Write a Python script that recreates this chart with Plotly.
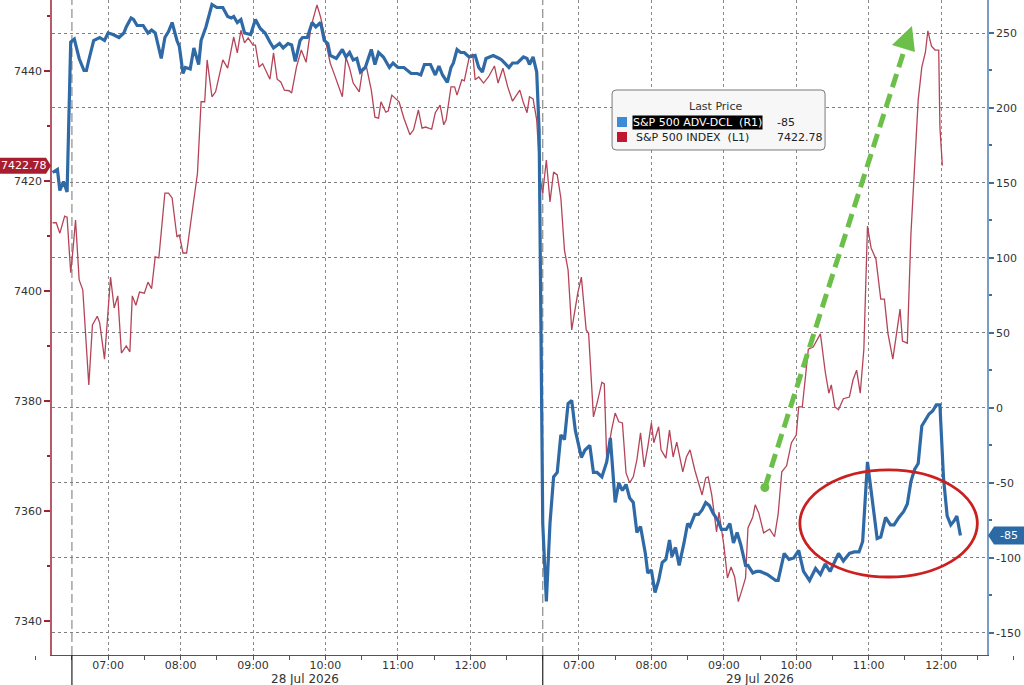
import plotly.graph_objects as go

DAY1 = "2026-07-28"
DAY2 = "2026-07-29"

# S&P 500 ADV-DCL (right axis)
adv_d1_time = ["06:14", "06:18", "06:20", "06:23", "06:26", "06:29", "06:32", "06:36", "06:40", "06:42",
               "06:44", "06:48", "06:53", "06:57", "07:00", "07:04", "07:09", "07:13", "07:15", "07:19",
               "07:21", "07:24", "07:29", "07:33", "07:36", "07:39", "07:44", "07:47", "07:50", "07:53",
               "07:57", "07:59", "08:02", "08:04", "08:08", "08:11", "08:15", "08:17", "08:21", "08:26",
               "08:30", "08:35", "08:39", "08:42", "08:44", "08:47", "08:50", "08:53", "08:58", "09:02",
               "09:06", "09:10", "09:14", "09:17", "09:22", "09:25", "09:29", "09:32", "09:35", "09:39",
               "09:41", "09:45", "09:49", "09:52", "09:56", "09:59", "10:02", "10:04", "10:09", "10:14",
               "10:17", "10:20", "10:23", "10:26", "10:29", "10:33", "10:38", "10:41", "10:44", "10:48",
               "10:53", "10:56", "11:00", "11:05", "11:11", "11:16", "11:19", "11:22", "11:27", "11:31",
               "11:34", "11:37", "11:41", "11:44", "11:46", "11:49", "11:52", "11:55", "11:59", "12:04",
               "12:07", "12:10", "12:13", "12:19", "12:24", "12:26", "12:32", "12:35", "12:39", "12:44",
               "12:47", "12:49", "12:52", "12:55", "12:57"]
adv_d1 = [157, 159, 145, 151, 144, 244, 246, 233, 225, 225,
          232, 245, 247, 245, 250, 249, 247, 250, 254, 260,
          259, 255, 255, 250, 252, 250, 233, 247, 251, 257,
          245, 241, 223, 227, 226, 240, 229, 245, 254, 269,
          267, 267, 261, 260, 261, 257, 259, 250, 249, 259,
          253, 250, 244, 240, 243, 240, 243, 242, 231, 245,
          247, 247, 257, 254, 257, 245, 243, 235, 233, 239,
          234, 237, 232, 233, 224, 227, 239, 229, 237, 234,
          227, 230, 227, 227, 223, 223, 222, 229, 229, 222,
          228, 222, 217, 227, 230, 239, 237, 237, 234, 235,
          227, 224, 233, 235, 233, 232, 227, 230, 230, 234,
          233, 229, 234, 224, 185]

adv_d2_time = ["06:30", "06:33", "06:36", "06:39", "06:42", "06:45", "06:48", "06:51", "06:54", "06:57",
               "07:02", "07:05", "07:09", "07:12", "07:15", "07:19", "07:23", "07:26", "07:30", "07:33",
               "07:36", "07:39", "07:42", "07:45", "07:48", "07:51", "07:55", "07:57", "08:00", "08:03",
               "08:06", "08:09", "08:12", "08:15", "08:17", "08:20", "08:23", "08:27", "08:30", "08:32",
               "08:36", "08:39", "08:42", "08:45", "08:48", "08:51", "08:55", "08:58", "09:02", "09:05",
               "09:08", "09:11", "09:14", "09:18", "09:20", "09:24", "09:27", "09:30", "09:36", "09:43",
               "09:45", "09:50", "09:54", "09:58", "10:02", "10:06", "10:11", "10:16", "10:20", "10:24",
               "10:28", "10:35", "10:39", "10:44", "10:48", "10:52", "10:55", "10:59", "11:02", "11:07",
               "11:10", "11:14", "11:18", "11:21", "11:25", "11:29", "11:32", "11:35", "11:38", "11:41",
               "11:44", "11:47", "11:50", "11:53", "11:56", "11:59", "12:02", "12:05", "12:08", "12:11",
               "12:13", "12:16"]
adv_d2 = [-77, -129, -77, -46, -43, -18, -21, 3, 5, -15,
          -33, -28, -25, -43, -43, -46, -36, -20, -63, -50,
          -55, -51, -60, -63, -83, -79, -97, -110, -108, -123,
          -115, -103, -101, -88, -99, -93, -105, -90, -77, -79,
          -71, -71, -68, -63, -65, -70, -75, -81, -81, -77,
          -90, -83, -91, -105, -105, -110, -109, -109, -111, -115,
          -115, -97, -101, -100, -95, -109, -115, -107, -111, -104,
          -109, -97, -102, -97, -96, -96, -89, -36, -54, -87,
          -86, -73, -78, -78, -73, -69, -64, -49, -41, -37,
          -12, -8, -4, -2, 2, 2, -47, -72, -78, -75,
          -72, -85]

# S&P 500 INDEX (left axis)
spx_d1_time = ["06:14", "06:17", "06:20", "06:24", "06:26", "06:29", "06:31", "06:33", "06:36", "06:39",
               "06:44", "06:47", "06:51", "06:53", "06:57", "06:59", "07:02", "07:05", "07:08", "07:11",
               "07:15", "07:18", "07:20", "07:23", "07:26", "07:30", "07:33", "07:36", "07:39", "07:42",
               "07:47", "07:50", "07:53", "07:57", "07:59", "08:02", "08:05", "08:09", "08:14", "08:17",
               "08:20", "08:22", "08:26", "08:29", "08:35", "08:39", "08:44", "08:47", "08:50", "08:53",
               "08:56", "09:00", "09:02", "09:05", "09:08", "09:14", "09:17", "09:20", "09:23", "09:26",
               "09:30", "09:32", "09:36", "09:40", "09:44", "09:48", "09:53", "09:56", "10:00", "10:04",
               "10:07", "10:11", "10:14", "10:17", "10:20", "10:23", "10:28", "10:31", "10:34", "10:38",
               "10:41", "10:44", "10:46", "10:50", "10:52", "10:55", "11:01", "11:05", "11:10", "11:13",
               "11:17", "11:20", "11:23", "11:28", "11:31", "11:35", "11:38", "11:40", "11:44", "11:47",
               "11:49", "11:53", "11:55", "11:59", "12:02", "12:04", "12:07", "12:11", "12:15", "12:20",
               "12:23", "12:27", "12:31", "12:35", "12:37", "12:41", "12:44", "12:47", "12:49", "12:52",
               "12:55", "12:58"]
spx_d1 = [7412.4, 7412.4, 7410.5, 7413.6, 7413.4, 7403.3, 7407.8, 7412.9, 7402.0, 7400.2,
          7382.9, 7393.8, 7395.4, 7394.2, 7387.6, 7394.2, 7402.5, 7396.9, 7399.1, 7388.7,
          7390.0, 7388.9, 7399.1, 7397.4, 7399.8, 7399.6, 7401.6, 7400.4, 7406.2, 7406.0,
          7417.8, 7417.8, 7416.9, 7409.8, 7410.2, 7406.9, 7406.9, 7413.4, 7421.4, 7434.4,
          7434.4, 7442.0, 7435.3, 7436.2, 7442.0, 7440.5, 7446.2, 7443.3, 7447.4, 7445.1,
          7446.0, 7444.7, 7444.7, 7440.7, 7441.3, 7438.5, 7443.3, 7438.5, 7438.0, 7436.5,
          7436.4, 7436.0, 7440.7, 7443.8, 7441.6, 7448.0, 7452.0, 7449.8, 7445.6, 7441.4,
          7439.6, 7437.1, 7435.3, 7442.5, 7440.5, 7437.8, 7436.2, 7440.5, 7440.7, 7436.5,
          7431.6, 7431.4, 7434.4, 7432.5, 7432.7, 7435.6, 7434.4, 7431.4, 7428.4, 7429.3,
          7432.9, 7429.6, 7429.8, 7429.4, 7432.4, 7433.8, 7430.2, 7431.1, 7437.1, 7437.1,
          7435.6, 7438.4, 7438.2, 7442.4, 7443.1, 7438.4, 7438.9, 7437.8, 7438.9, 7440.9,
          7437.8, 7440.5, 7437.1, 7434.5, 7435.1, 7436.5, 7434.2, 7432.4, 7435.3, 7434.9,
          7431.1, 7420.2]

spx_d2_time = ["06:30", "06:33", "06:36", "06:39", "06:42", "06:45", "06:48", "06:51", "06:54", "06:59",
               "07:02", "07:06", "07:08", "07:12", "07:15", "07:19", "07:21", "07:23", "07:27", "07:30",
               "07:33", "07:36", "07:39", "07:42", "07:45", "07:48", "07:51", "07:54", "07:57", "08:00",
               "08:02", "08:06", "08:08", "08:12", "08:15", "08:18", "08:21", "08:26", "08:29", "08:32",
               "08:36", "08:39", "08:42", "08:45", "08:47", "08:50", "08:54", "08:56", "09:00", "09:03",
               "09:06", "09:09", "09:12", "09:15", "09:18", "09:20", "09:24", "09:26", "09:29", "09:33",
               "09:38", "09:42", "09:45", "09:48", "09:52", "09:56", "10:00", "10:02", "10:05", "10:10",
               "10:14", "10:20", "10:24", "10:27", "10:29", "10:32", "10:35", "10:39", "10:44", "10:47",
               "10:50", "10:53", "10:56", "10:59", "11:02", "11:06", "11:10", "11:13", "11:16", "11:20",
               "11:23", "11:26", "11:28", "11:32", "11:35", "11:38", "11:41", "11:44", "11:47", "11:49",
               "11:52", "11:55", "11:58", "11:59", "12:01"]
spx_d2 = [7417.8, 7423.8, 7416.2, 7421.6, 7421.1, 7416.9, 7407.4, 7403.8, 7392.9, 7399.6,
          7402.5, 7392.9, 7392.3, 7377.1, 7379.6, 7383.4, 7383.1, 7369.3, 7374.7, 7377.8,
          7376.2, 7376.0, 7366.9, 7365.1, 7366.2, 7369.3, 7374.2, 7368.0, 7371.6, 7376.0,
          7372.4, 7375.3, 7371.1, 7369.6, 7374.7, 7369.8, 7372.5, 7367.1, 7369.8, 7371.1,
          7367.4, 7365.1, 7362.9, 7366.0, 7366.2, 7362.9, 7356.2, 7359.8, 7353.8, 7347.8,
          7349.8, 7348.0, 7343.5, 7345.6, 7347.8, 7356.9, 7358.9, 7361.1, 7359.6, 7356.0,
          7356.7, 7355.3, 7359.4, 7367.1, 7368.2, 7372.4, 7373.8, 7378.9, 7378.9, 7389.4,
          7389.8, 7392.2, 7385.3, 7381.4, 7382.9, 7378.9, 7378.4, 7380.4, 7380.7, 7383.8,
          7385.6, 7381.4, 7389.4, 7411.8, 7407.8, 7405.8, 7398.5, 7398.5, 7392.2, 7387.6,
          7392.5, 7396.7, 7390.9, 7390.5, 7410.4, 7422.9, 7434.7, 7440.7, 7443.4, 7447.3,
          7444.5, 7443.8, 7443.8, 7429.8, 7422.78]

hour_labels = ["07:00", "08:00", "09:00", "10:00", "11:00", "12:00"]
day_labels = ["28 Jul 2026", "29 Jul 2026"]
left_ticks = [7340, 7360, 7380, 7400, 7420, 7440]
right_ticks = [-150, -100, -50, 0, 50, 100, 150, 200, 250]
spx_last = 7422.78
adv_last = -85
adv_name = "S&amp;P 500 ADV-DCL\u00a0\u00a0(R1)"
spx_name = "S&amp;P 500 INDEX\u00a0\u00a0(L1)"

BLUE = "#2f6aa6"
RED = "#b54458"
GREEN = "#6cc04a"
FONT = "DejaVu Sans, Verdana, sans-serif"
FS = 11

adv_x = [DAY1 + " " + t for t in adv_d1_time] + [DAY2 + " " + t for t in adv_d2_time]
adv_y = adv_d1 + adv_d2
spx_x = [DAY1 + " " + t for t in spx_d1_time] + [DAY2 + " " + t for t in spx_d2_time]
spx_y = spx_d1 + spx_d2

fig = go.Figure()
fig.add_trace(go.Scatter(x=spx_x, y=spx_y, mode="lines", yaxis="y",
                         line=dict(color=RED, width=1.3), showlegend=False))
fig.add_trace(go.Scatter(x=adv_x, y=adv_y, mode="lines", yaxis="y2",
                         line=dict(color=BLUE, width=3.2), showlegend=False))

shapes = []
# session starts: dashed line in plot, solid separator under axis
for s in [DAY1 + " 06:30", DAY2 + " 06:30"]:
    shapes.append(dict(type="line", xref="x", yref="paper", x0=s, x1=s, y0=0, y1=1,
                       line=dict(color="#8c8c8c", width=1.2, dash="9px,4px"), layer="below"))
    shapes.append(dict(type="line", xref="x", yref="paper", x0=s, x1=s, y0=0, y1=-0.047,
                       line=dict(color="#222222", width=1.2)))

# last price tags
shapes.append(dict(type="path", xref="paper", yref="y", xsizemode="pixel", ysizemode="pixel",
                   xanchor=0, yanchor=spx_last,
                   path="M -52,8 L -6,8 L -1,0 L -6,-8 L -52,-8 Z",
                   fillcolor="#a81e2f", line=dict(width=0)))
shapes.append(dict(type="path", xref="paper", yref="y2", xsizemode="pixel", ysizemode="pixel",
                   xanchor=1, yanchor=adv_last,
                   path="M 1,0 L 7,9 L 38,9 L 38,-9 L 7,-9 Z",
                   fillcolor="#2c6aa5", line=dict(width=0)))

# green dashed arrow
arrow_tail = (DAY2 + " 09:34", -53)
arrow_base = (DAY2 + " 11:30", 240)
arrow_tip = (DAY2 + " 11:35", 254)
shapes.append(dict(type="line", xref="x", yref="y2", x0=arrow_tail[0], y0=arrow_tail[1],
                   x1=arrow_base[0], y1=arrow_base[1],
                   line=dict(color=GREEN, width=5, dash="14px,7px")))
shapes.append(dict(type="path", xref="x", yref="y2", xsizemode="pixel", ysizemode="pixel",
                   xanchor=arrow_tip[0], yanchor=arrow_tip[1],
                   path="M 1,1 L 4,-25 L -19,-18 Z", fillcolor=GREEN, line=dict(width=0)))
shapes.append(dict(type="circle", xref="x", yref="y2", xsizemode="pixel", ysizemode="pixel",
                   xanchor=arrow_tail[0], yanchor=arrow_tail[1], x0=-4.5, x1=4.5, y0=-4.5, y1=4.5,
                   fillcolor=GREEN, line=dict(width=0)))

# red ellipse
shapes.append(dict(type="circle", xref="x", yref="y2",
                   x0=DAY2 + " 10:03", x1=DAY2 + " 12:30", y0=-112.7, y1=-41.3,
                   line=dict(color="#cc1f1f", width=2.8)))

# legend box
shapes.append(dict(type="path", xref="paper", yref="paper", xsizemode="pixel", ysizemode="pixel",
                   xanchor=0.599, yanchor=0.8626,
                   path="M 4,0 L 209,0 Q 213,0 213,-4 L 213,-56 Q 213,-60 209,-60 "
                        "L 4,-60 Q 0,-60 0,-56 L 0,-4 Q 0,0 4,0 Z",
                   fillcolor="#f7f7f7", line=dict(color="#7a7a7a", width=1)))
shapes.append(dict(type="rect", xref="paper", yref="paper",
                   x0=0.6043, x1=0.6150, y0=0.8061, y1=0.8214,
                   fillcolor="#3d8ad6", line=dict(width=0)))
shapes.append(dict(type="rect", xref="paper", yref="paper",
                   x0=0.6043, x1=0.6150, y0=0.7832, y1=0.7985,
                   fillcolor="#c0182e", line=dict(width=0)))

annotations = []
annotations.append(dict(xref="paper", yref="paper", x=0.710, y=0.838, text="Last Price",
                        xanchor="center", yanchor="middle",
                        showarrow=False, font=dict(size=FS, color="#333333")))
annotations.append(dict(xref="paper", yref="paper", x=0.6203, y=0.8137, text=adv_name,
                        xanchor="left", yanchor="middle", showarrow=False,
                        bgcolor="#000000", borderpad=0,
                        font=dict(size=FS, color="#ffffff")))
annotations.append(dict(xref="paper", yref="paper", x=0.7732, y=0.8137, text=str(adv_last),
                        xanchor="left", yanchor="middle", showarrow=False,
                        font=dict(size=FS, color="#222222")))
annotations.append(dict(xref="paper", yref="paper", x=0.6223, y=0.7908, text=spx_name,
                        xanchor="left", yanchor="middle", showarrow=False,
                        font=dict(size=FS, color="#222222")))
annotations.append(dict(xref="paper", yref="paper", x=0.7732, y=0.7908, text=f"{spx_last:.2f}",
                        xanchor="left", yanchor="middle", showarrow=False,
                        font=dict(size=FS, color="#222222")))

# tag texts
annotations.append(dict(xref="paper", yref="y", x=0, y=spx_last, xshift=-28, text=f"{spx_last:.2f}",
                        xanchor="center", yanchor="middle",
                        showarrow=False, font=dict(size=FS, color="#ffffff")))
annotations.append(dict(xref="paper", yref="y2", x=1, y=adv_last, xshift=22, text=str(adv_last),
                        xanchor="center", yanchor="middle",
                        showarrow=False, font=dict(size=FS, color="#ffffff")))

# day labels under the time axis
for d, lab, mid in [(DAY1, day_labels[0], "09:43"), (DAY2, day_labels[1], "09:30")]:
    annotations.append(dict(xref="x", yref="paper", x=d + " " + mid, y=0, yshift=-24,
                            xanchor="center", yanchor="middle", text=lab, showarrow=False,
                            font=dict(size=12, color="#333333")))

fig.update_layout(
    width=1024, height=685,
    margin=dict(l=52, r=37, t=0, b=30, autoexpand=False),
    paper_bgcolor="white", plot_bgcolor="white",
    font=dict(family=FONT, size=FS, color="#333333"),
    showlegend=False,
    xaxis=dict(
        type="date", automargin=False,
        range=[DAY1 + " 06:13:30", DAY2 + " 12:38"],
        rangebreaks=[dict(bounds=[DAY1 + " 13:00", DAY2 + " 06:30"])],
        tickvals=[d + " " + h for d in (DAY1, DAY2) for h in hour_labels],
        ticktext=hour_labels * 2,
        ticks="", showgrid=True, gridcolor="#8a8a8a", griddash="dot", gridwidth=1,
        showline=True, linecolor="#555555", linewidth=1, zeroline=False,
        minor=dict(dtick=1800000, tick0=DAY1 + " 06:00", ticks="outside", ticklen=4,
                   tickcolor="#555555", showgrid=False),
        tickfont=dict(size=FS, color="#333333"),
    ),
    yaxis=dict(
        automargin=False,
        range=[7333.8, 7452.9],
        tickvals=left_ticks,
        ticks="outside", ticklen=6, tickwidth=2, tickcolor="#a3202e",
        showline=True, linecolor="#b75a68", linewidth=1.5,
        showgrid=False, zeroline=False,
        minor=dict(dtick=10, tick0=7330, ticks="outside", ticklen=3, tickcolor="#a3202e",
                   showgrid=False),
        tickfont=dict(size=FS, color="#333333"),
    ),
    yaxis2=dict(
        overlaying="y", side="right", automargin=False,
        range=[-164.7, 272],
        tickvals=right_ticks,
        ticktext=[str(v) for v in right_ticks],
        ticks="outside", ticklen=5, tickwidth=2, tickcolor="#3d6fa5",
        showline=True, linecolor="#7a9dc4", linewidth=1.5,
        showgrid=True, gridcolor="#7f7f7f", griddash="dot", gridwidth=1,
        zeroline=False,
        minor=dict(dtick=25, tick0=0, ticks="outside", ticklen=3, tickcolor="#3d6fa5",
                   showgrid=False),
        tickfont=dict(size=FS, color="#333333"),
    ),
    shapes=shapes,
    annotations=annotations,
)

# page has a default body margin; drop it so the figure fills the window
fig.write_html("out.html", config={"displayModeBar": False},
               post_script="document.body.style.margin='0px';")
